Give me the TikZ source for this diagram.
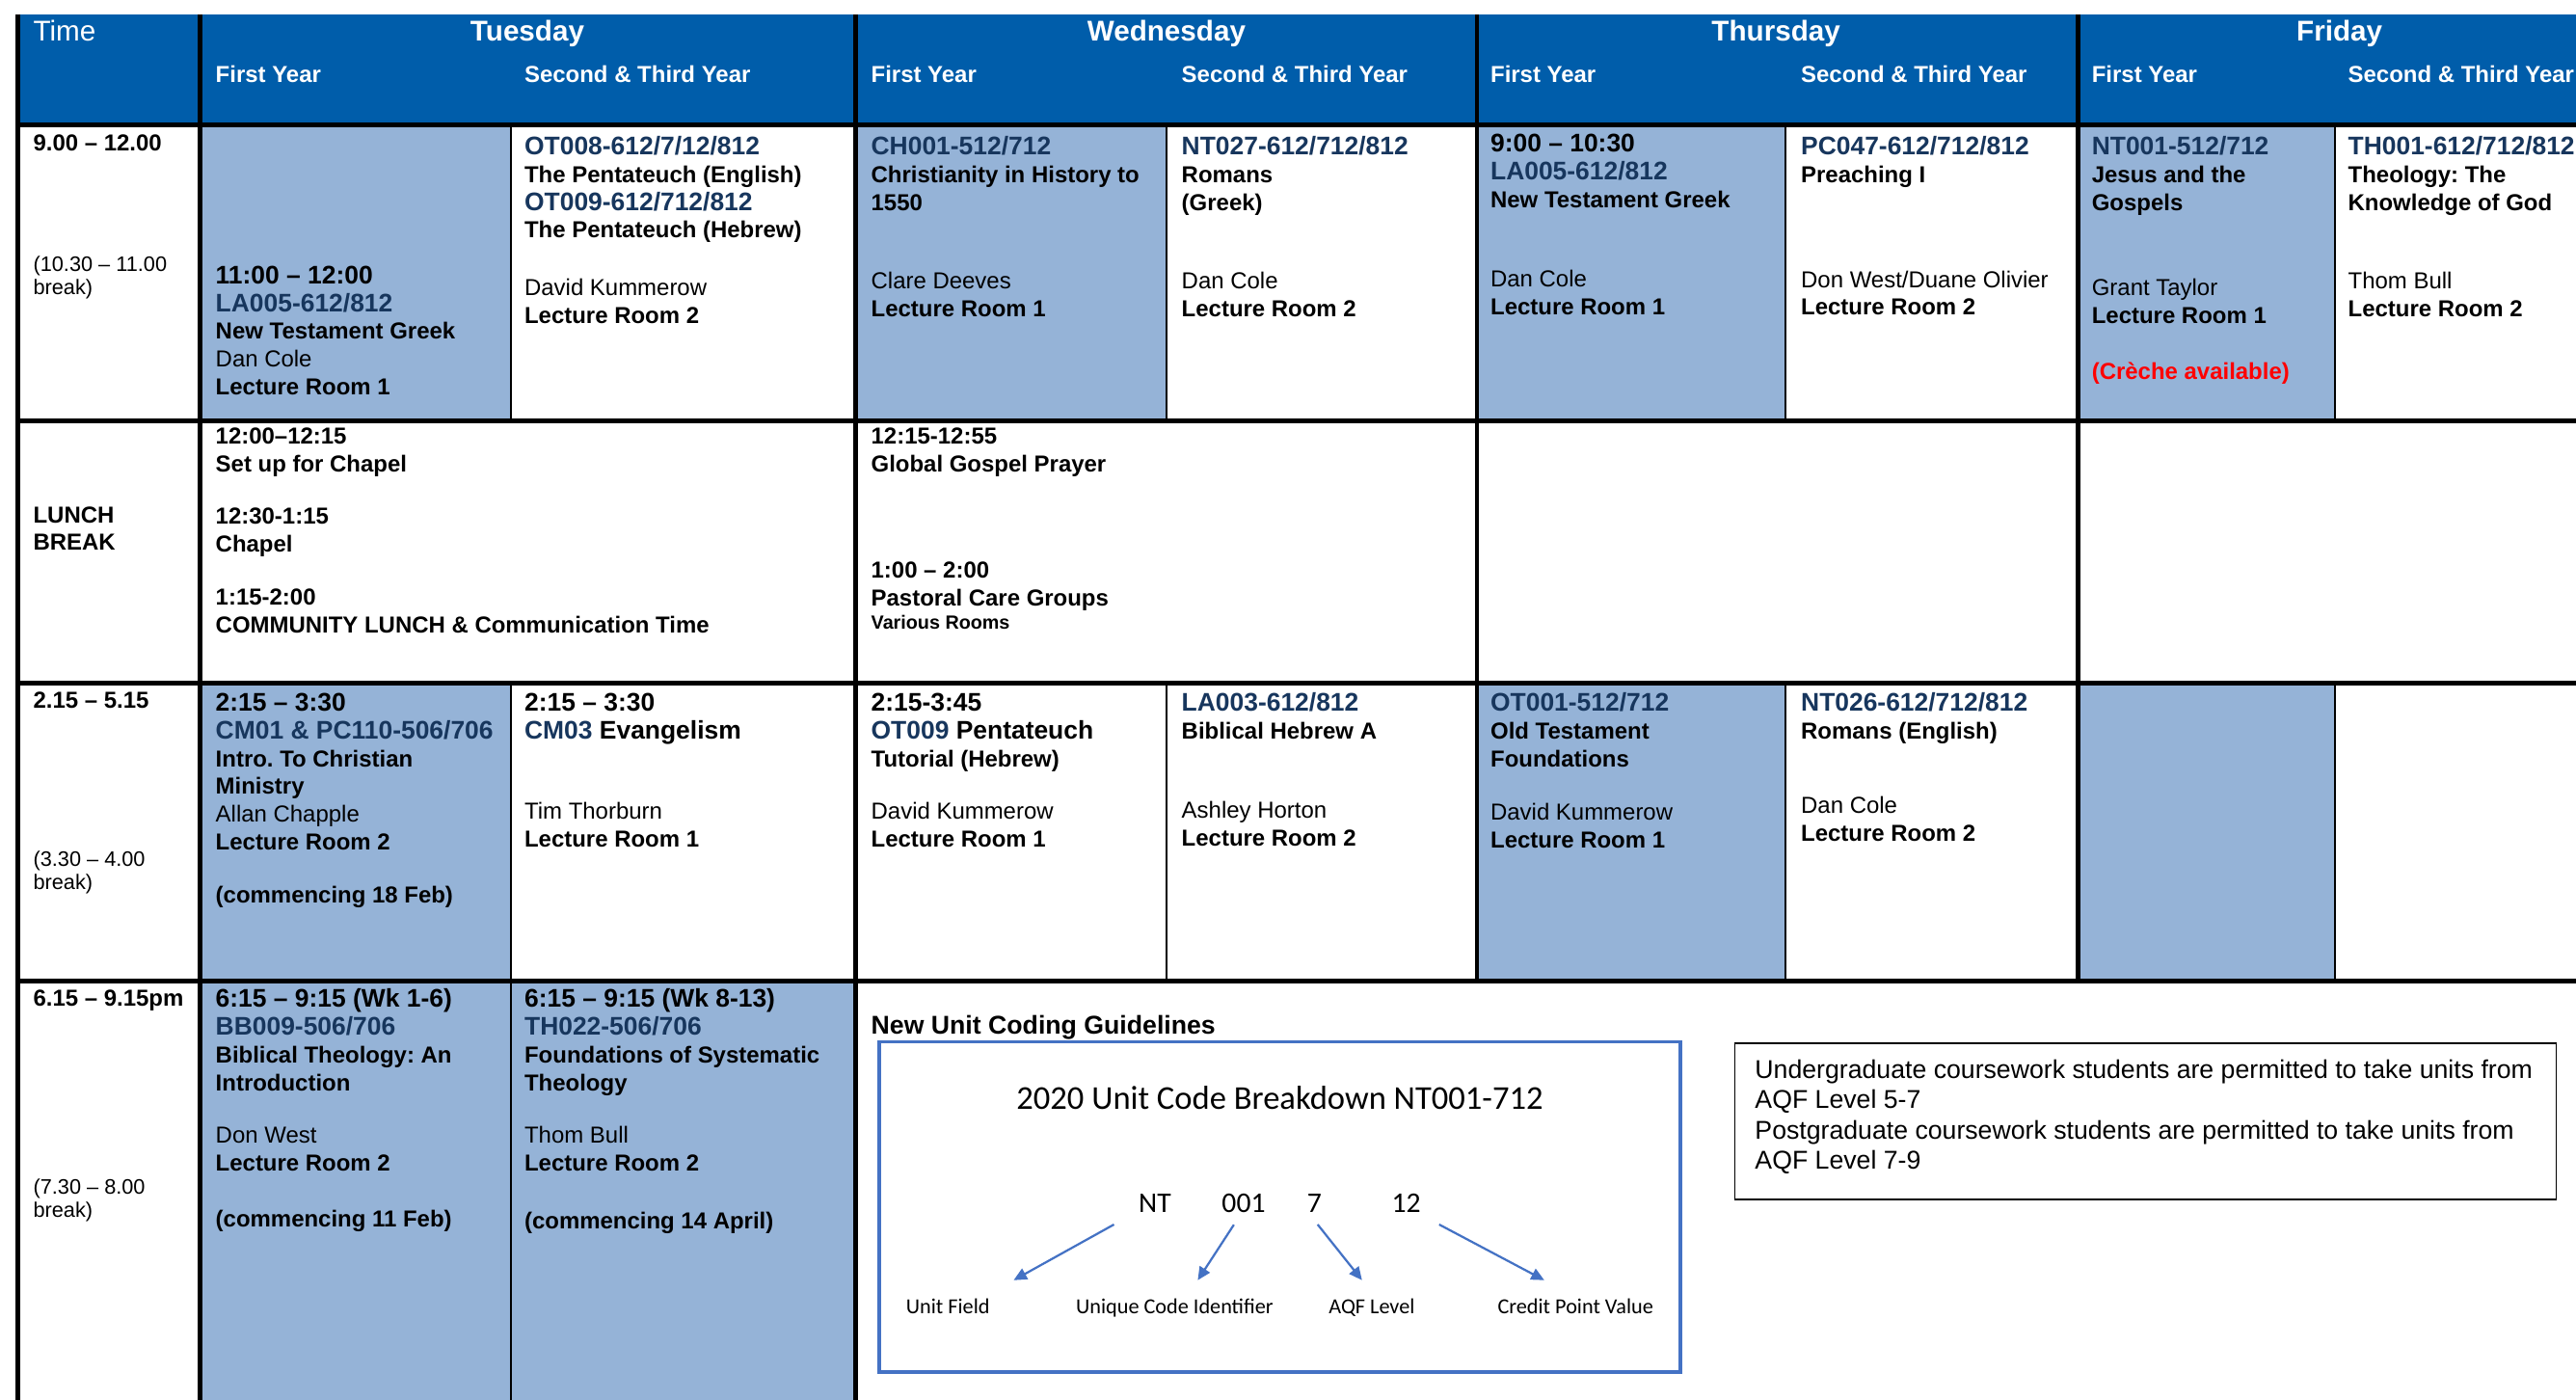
\documentclass[tikz,border=0pt]{standalone}
\usepackage{fontspec}
\setmainfont{Liberation Sans}
\newfontfamily\calibri{Carlito}
\usepackage{xcolor}
\usepackage{tikz}
\usetikzlibrary{arrows.meta}

\definecolor{hdrblue}{RGB}{0,93,170}
\definecolor{cellblue}{RGB}{149,179,215}
\definecolor{codenavy}{RGB}{23,54,93}
\definecolor{boxblue}{RGB}{68,114,196}
\definecolor{crecheRed}{RGB}{255,0,0}

\newcommand\code[1]{{\fontsize{10.7}{11.7}\selectfont\color{codenavy}#1}}
\newcommand\hr[1]{{\fontsize{10.7}{11.7}\selectfont #1}}
\frenchspacing

\begin{document}
\begin{tikzpicture}[x=0.69pt, y=-0.69pt,
    cell/.style={anchor=north west, align=left, inner sep=0pt, font=\fontsize{9.7}{11.7}\selectfont\bfseries},
    brk/.style={anchor=north west, align=left, inner sep=0pt, font=\fontsize{8.8}{9.7}\selectfont},
    dayhd/.style={anchor=base, inner sep=0pt, text=white, font=\fontsize{12}{14}\selectfont\bfseries},
    yrhd/.style={anchor=base west, inner sep=0pt, text=white, font=\fontsize{9.7}{12}\selectfont\bfseries},
    bold line/.style={line width=2pt},
    thin line/.style={line width=0.8pt},
    part/.style={anchor=base, inner sep=0pt, font=\calibri\fontsize{12}{14}\selectfont},
    field/.style={anchor=base, inner sep=0pt, font=\calibri\fontsize{9}{11}\selectfont},
    codearrow/.style={boxblue, line width=0.9pt, -{Triangle[length=5.5pt, width=5pt]}}]
\useasboundingbox (0,0) rectangle (1568,852);

\fill[hdrblue] (11,9) rectangle (1568,76);
\fill[cellblue] (122,76) rectangle (311,256);
\fill[cellblue] (521,76) rectangle (710,256);
\fill[cellblue] (899,76) rectangle (1087,256);
\fill[cellblue] (1265,76) rectangle (1421,256);
\fill[cellblue] (122,416) rectangle (311,597);
\fill[cellblue] (899,416) rectangle (1087,597);
\fill[cellblue] (1265,416) rectangle (1421,597);
\fill[cellblue] (122,597) rectangle (521,852);

\draw[bold line] (11,76) -- (1568,76);
\draw[bold line] (11,256) -- (1568,256);
\draw[bold line] (11,416) -- (1568,416);
\draw[bold line] (11,597) -- (1568,597);
\draw[bold line] (11,9) -- (11,852);
\draw[bold line] (122,9) -- (122,852);
\draw[bold line] (521,9) -- (521,852);
\draw[bold line] (899,9) -- (899,597);
\draw[bold line] (1265,9) -- (1265,597);
\draw[thin line] (311,76) -- (311,256) (311,416) -- (311,852);
\draw[thin line] (710,76) -- (710,256) (710,416) -- (710,597);
\draw[thin line] (1087,76) -- (1087,256) (1087,416) -- (1087,597);
\draw[thin line] (1421,76) -- (1421,256) (1421,416) -- (1421,597);

\node[anchor=base west, inner sep=0pt, text=white, font=\fontsize{12}{14}\selectfont] (timehd) at (20,25) {Time};
\node[dayhd] (tue) at (321,25) {Tuesday};
\node[dayhd] (wed) at (710,25) {Wednesday};
\node[dayhd] (thu) at (1081,25) {Thursday};
\node[dayhd] (fri) at (1424,25) {Friday};
\node[yrhd] (tuea) at (131,50) {First Year};
\node[yrhd] (tueb) at (319,50) {Second \& Third Year};
\node[yrhd] (weda) at (530,50) {First Year};
\node[yrhd] (wedb) at (719,50) {Second \& Third Year};
\node[yrhd] (thua) at (907,50) {First Year};
\node[yrhd] (thub) at (1096,50) {Second \& Third Year};
\node[yrhd] (fria) at (1273,50) {First Year};
\node[yrhd] (frib) at (1429,50) {Second \& Third Year};

\node[cell] (time1) at (20,82) {9.00 -- 12.00};
\node[brk] (brk1) at (20,155.5) {(10.30 -- 11.00\\break)};
\node[cell] (tue1a) at (131,161.5) {\hr{11:00 -- 12:00}\\ \code{LA005-612/812}\\ New Testament Greek\\ \mdseries Dan Cole\\ Lecture Room 1};
\node[cell] (tue1b) at (319,82.5) {\code{OT008-612/7/12/812}\\ The Pentateuch (English)\\ \code{OT009-612/712/812}\\ The Pentateuch (Hebrew)\\[12.4pt] \mdseries David Kummerow\\ Lecture Room 2};
\node[cell] (wed1a) at (530,82.5) {\code{CH001-512/712}\\ Christianity in History to\\ 1550\\[21.4pt] \mdseries Clare Deeves\\ Lecture Room 1};
\node[cell] (wed1b) at (719,82.5) {\code{NT027-612/712/812}\\ Romans\\ (Greek)\\[21.4pt] \mdseries Dan Cole\\ Lecture Room 2};
\node[cell] (thu1a) at (907,81.5) {\hr{9:00 -- 10:30}\\ \code{LA005-612/812}\\ New Testament Greek\\[21.4pt] \mdseries Dan Cole\\ Lecture Room 1};
\node[cell] (thu1b) at (1096,82.5) {\code{PC047-612/712/812}\\ Preaching I\\[32.4pt] \mdseries Don West/Duane Olivier\\ Lecture Room 2};
\node[cell] (fri1a) at (1273,82.5) {\code{NT001-512/712}\\ Jesus and the\\ Gospels\\[24.2pt] \mdseries Grant Taylor\\ Lecture Room 1\\[11.7pt] \textcolor{crecheRed}{(Crèche available)}};
\node[cell] (fri1b) at (1429,82.5) {\code{TH001-612/712/812}\\ Theology: The\\ Knowledge of God\\[21.4pt] \mdseries Thom Bull\\ Lecture Room 2};

\node[cell] (lunch) at (20,308) {LUNCH\\ BREAK};
\node[cell] (tue2) at (131,260) {12:00--12:15\\ Set up for Chapel\\[10.4pt] 12:30-1:15\\ Chapel\\[10.4pt] 1:15-2:00\\ COMMUNITY LUNCH \& Communication Time};
\node[cell] (wed2) at (530,260) {12:15-12:55\\ Global Gospel Prayer\\[33pt] 1:00 -- 2:00\\ Pastoral Care Groups\\[-2pt] {\fontsize{8}{9}\selectfont Various Rooms}};

\node[cell] (time3) at (20,421) {2.15 -- 5.15};
\node[brk] (brk3) at (20,517.5) {(3.30 -- 4.00\\break)};
\node[cell] (tue3a) at (131,421.5) {\hr{2:15 -- 3:30}\\ \code{CM01 \& PC110-506/706}\\ Intro. To Christian\\ Ministry\\ \mdseries Allan Chapple\\ Lecture Room 2\\[10.4pt] (commencing 18 Feb)};
\node[cell] (tue3b) at (319,421.5) {\hr{2:15 -- 3:30}\\ \hr{\code{CM03} Evangelism}\\[22pt] \mdseries Tim Thorburn\\ Lecture Room 1};
\node[cell] (wed3a) at (530,421.5) {\hr{2:15-3:45}\\ \hr{\code{OT009} Pentateuch}\\ Tutorial (Hebrew)\\[10.4pt] \mdseries David Kummerow\\ Lecture Room 1};
\node[cell] (wed3b) at (719,421.5) {\code{LA003-612/812}\\ Biblical Hebrew A\\[21.4pt] \mdseries Ashley Horton\\ Lecture Room 2};
\node[cell] (thu3a) at (907,421.5) {\code{OT001-512/712}\\ Old Testament\\ Foundations\\[10.4pt] \mdseries David Kummerow\\ Lecture Room 1};
\node[cell] (thu3b) at (1096,421.5) {\code{NT026-612/712/812}\\ Romans (English)\\[19.3pt] \mdseries Dan Cole\\ Lecture Room 2};

\node[cell] (time4) at (20,602) {6.15 -- 9.15pm};
\node[brk] (brk4) at (20,717.5) {(7.30 -- 8.00\\break)};
\node[cell] (tue4a) at (131,601.5) {\hr{6:15 -- 9:15 (Wk 1-6)}\\ \code{BB009-506/706}\\ Biblical Theology: An\\ Introduction\\[10.4pt] \mdseries Don West\\ Lecture Room 2\\[11.7pt] (commencing 11 Feb)};
\node[cell] (tue4b) at (319,601.5) {\hr{6:15 -- 9:15 (Wk 8-13)}\\ \code{TH022-506/706}\\ Foundations of Systematic\\ Theology\\[10.4pt] \mdseries Thom Bull\\ Lecture Room 2\\[12.4pt] (commencing 14 April)};

\node[cell, font=\fontsize{10.8}{12}\selectfont\bfseries] (guide) at (530,617.5) {New Unit Coding Guidelines};
\draw[boxblue, line width=1.5pt] (535,634) rectangle (1023,835);
\node[inner sep=0pt, font=\calibri\fontsize{14}{16}\selectfont] (codetitle) at (779,668) {2020 Unit Code Breakdown NT001-712};
\node[part] (nt) at (703,738) {NT};
\node[part] (num) at (757,738) {001};
\node[part] (lvl) at (800,738) {7};
\node[part] (cp) at (856,738) {12};
\node[field] (unitfield) at (577,799.5) {Unit Field};
\node[field] (uci) at (715,799.5) {Unique Code Identifier};
\node[field] (aqf) at (835,799.5) {AQF Level};
\node[field] (cpv) at (959,799.5) {Credit Point Value};
\draw[codearrow] ([xshift=-17.2pt, yshift=-4.8pt]nt.south) -- ([xshift=27.6pt, yshift=7.6pt]unitfield.north);
\draw[codearrow] ([xshift=-4.1pt, yshift=-4.8pt]num.south) -- ([xshift=9.7pt, yshift=7.6pt]uci.north);
\draw[codearrow] ([xshift=1.4pt, yshift=-4.8pt]lvl.south) -- ([xshift=-4.1pt, yshift=7.6pt]aqf.north);
\draw[codearrow] ([xshift=13.8pt, yshift=-4.8pt]cp.south) -- ([xshift=-13.1pt, yshift=7.6pt]cpv.north);

\draw[line width=0.7pt] (1056,635) rectangle (1556,730);
\node[anchor=north west, align=left, inner sep=0pt, font=\fontsize{10.8}{12.75}\selectfont] (aqfnote) at (1068,644.5) {Undergraduate coursework students are permitted to take units from\\ AQF Level 5-7\\ Postgraduate coursework students are permitted to take units from\\ AQF Level 7-9};
\end{tikzpicture}
\end{document}
